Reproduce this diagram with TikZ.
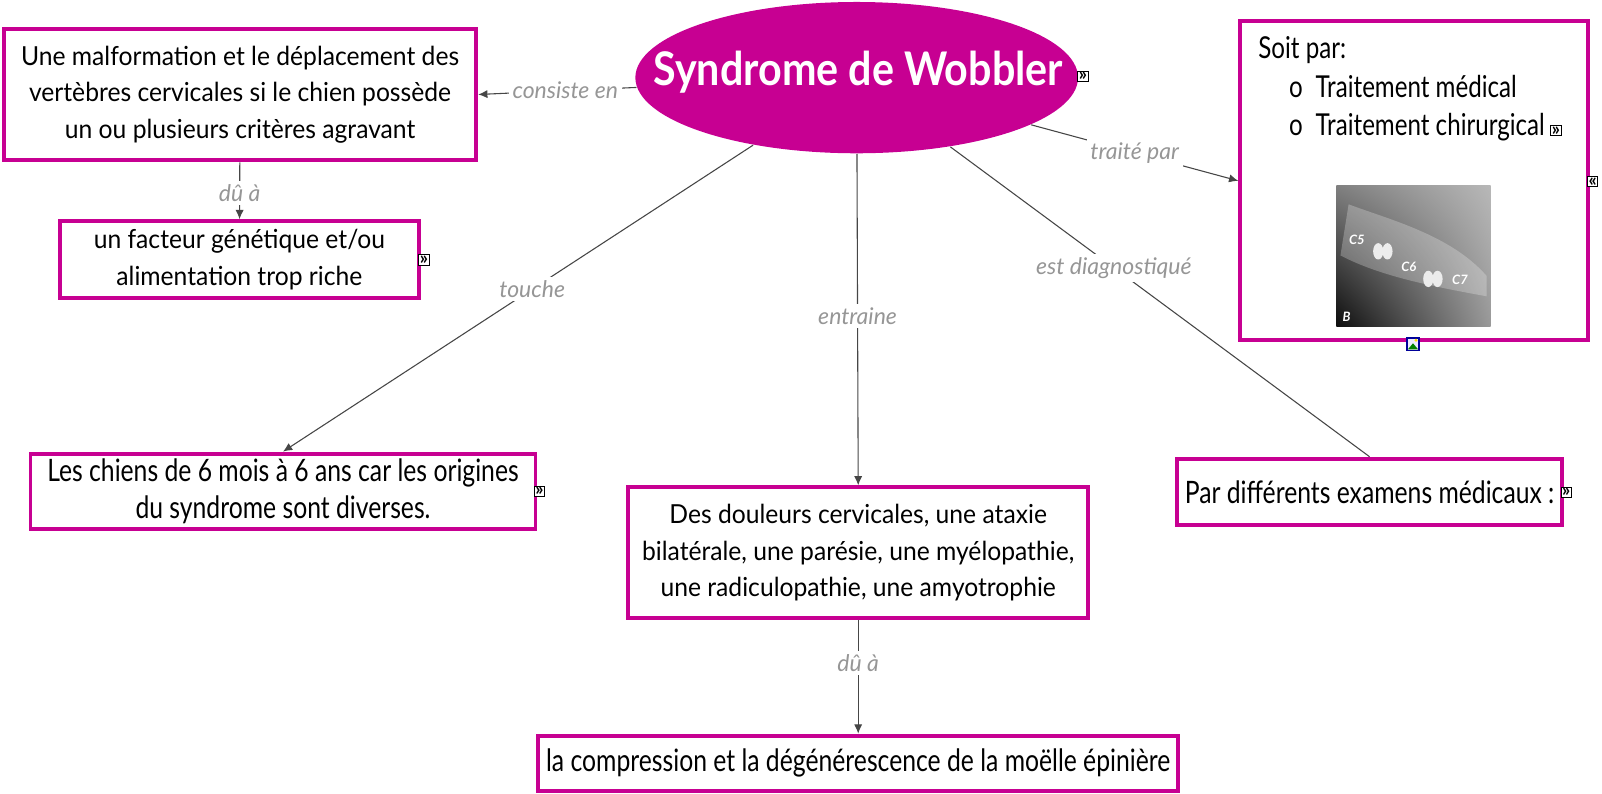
\documentclass[tikz,border=0pt]{standalone}
\usepackage{fontspec}
\setmainfont{Lato}
\newfontfamily\narrowfont[FakeStretch=0.94]{Lato}
\newfontfamily\widefont[FakeStretch=0.80]{Lato}
\newfontfamily\titlefont[FakeStretch=0.89]{Lato}
\usetikzlibrary{shapes.geometric,arrows.meta,shadings}

\definecolor{wobmagenta}{RGB}{199,0,146}
\definecolor{linkgray}{RGB}{70,70,70}
\definecolor{labelgray}{RGB}{150,150,150}

\tikzset{
  concept/.style={draw=wobmagenta, line width=1.1pt, fill=white, inner sep=0pt, align=center},
  narrowtext/.style={font=\narrowfont\fontsize{7.3}{10.2}\selectfont},
  widetext/.style={font=\widefont\fontsize{8.6}{10.2}\selectfont},
  link/.style={draw=linkgray, line width=0.3pt},
  linklabel/.style={fill=white, inner sep=1pt, text=labelgray, font=\fontsize{6.4}{7}\selectfont\itshape},
  resicon/.style={draw=black, line width=0.3pt, fill=white, inner sep=0pt, minimum size=0.1cm,
    font=\fontsize{5}{5}\selectfont\bfseries},
}

\begin{document}
\begin{tikzpicture}[x=0.01cm,y=-0.01cm,>={Latex[length=0.9mm,width=0.8mm]}]
    \useasboundingbox (0,0) rectangle (1568,777);

    % main concept
    \node [ellipse, fill=wobmagenta, inner sep=0pt, minimum width=4.33cm, minimum height=1.48cm] (wob) at (838.5,76) {};
    \node [text=white, inner sep=0pt, font=\titlefont\bfseries\fontsize{12.9}{14}\selectfont] (wobtitle) at (840,71)
        {Syndrome de Wobbler};

    % concepts
    \node [concept, narrowtext, minimum width=4.62cm, minimum height=1.29cm] (malf) at (235,92.5)
        {Une malformation et le déplacement des\\vertèbres cervicales si le chien possède\\un ou plusieurs critères agravant};
    \node [concept, narrowtext, minimum width=3.51cm, minimum height=0.75cm] (gene) at (234.3,254)
        {un facteur génétique et/ou\\alimentation trop riche};
    \node [concept, minimum width=3.40cm, minimum height=3.12cm] (treat) at (1384,177) {};
    \node [concept, widetext, minimum width=4.94cm, minimum height=0.74cm] (dogs) at (277,481)
        {Les chiens de 6 mois à 6 ans car les origines\\du syndrome sont diverses.};
    \node [concept, narrowtext, minimum width=4.50cm, minimum height=1.28cm] (sympt) at (840,541)
        {Des douleurs cervicales, une ataxie\\bilatérale, une parésie, une myélopathie,\\une radiculopathie, une amyotrophie};
    \node [concept, widetext, minimum width=3.77cm, minimum height=0.65cm] (exam) at (1340.5,481.5)
        {Par différents examens médicaux :};
    \node [concept, widetext, minimum width=6.26cm, minimum height=0.54cm] (compr) at (840,747)
        {la compression et la dégénérescence de la moëlle épinière};

    % text and picture in the treatment box
    \begin{scope}[font=\widefont\fontsize{8.4}{10.8}\selectfont]
        \node [anchor=base west, inner sep=0pt] (soit) at (1231,57) {Soit par:};
        \node [anchor=base west, inner sep=0pt] (bula) at (1261,95) {o};
        \node [anchor=base west, inner sep=0pt] (med) at (1287,95) {Traitement médical};
        \node [anchor=base west, inner sep=0pt] (bulb) at (1261,133) {o};
        \node [anchor=base west, inner sep=0pt] (chir) at (1287,133) {Traitement chirurgical};
    \end{scope}
    \shade [upper left=black!50, upper right=black!28, lower left=black!95, lower right=black!40]
        (1308,182) rectangle (1459,320);
    \fill [white, opacity=.25] (1320,200) .. controls (1360,215) and (1420,230) .. (1455,270)
        -- (1455,290) .. controls (1400,280) and (1350,270) .. (1312,250) -- cycle;
    \fill [white!85!gray] (1349,246) ellipse (5 and 8) (1358,246) ellipse (5 and 8);
    \fill [white!85!gray] (1398,273) ellipse (5 and 8) (1407,273) ellipse (5 and 8);
    \begin{scope}[every node/.style={text=white, inner sep=0pt, font=\fontsize{3.6}{4}\selectfont\bfseries\itshape}]
        \node (cfive) at (1328,235) {C5};
        \node (csix) at (1379,261) {C6};
        \node (cseven) at (1429,274) {C7};
        \node (bref) at (1318,310) {B};
    \end{scope}

    % resource icons
    \node [resicon] (icwob) at (1060,75) {»};
    \node [resicon] (icgene) at (415,254.5) {»};
    \node [resicon] (icdogs) at (528,481) {»};
    \node [resicon] (icchir) at (1523,128) {»};
    \node [resicon] (icexam) at (1533,482) {»};
    \node [resicon] (icback) at (1559,178) {«};
    \node [draw=blue!60!black, fill=blue!8, line width=0.4pt, inner sep=0pt, minimum size=0.12cm] (icimg) at (1383,337) {};
    \fill [green!50!black] (1378,342) -- (1383,336) -- (1388,342) -- cycle;
    \fill [yellow!80!orange] (1386,333) circle (1.6);

    % links
    \draw [link,->] (wob) -- (malf.east) node [linklabel, pos=0.45] {consiste en};
    \draw [link,->] (malf) -- (gene) node [linklabel, pos=0.54] {dû à};
    \draw [link,->] (wob) -- (dogs.north) node [linklabel, pos=0.47] {touche};
    \draw [link,->] (wob) -- (sympt.north) node [linklabel, pos=0.49] {entraine};
    \draw [link,->] (wob) -- (treat.west) node [linklabel, pos=0.5] {traité par};
    \draw [link] (wob) -- (exam.north) node [linklabel, pos=0.39] {est diagnostiqué};
    \draw [link,->] (sympt) -- (compr) node [linklabel, pos=0.38] {dû à};
\end{tikzpicture}
\end{document}
